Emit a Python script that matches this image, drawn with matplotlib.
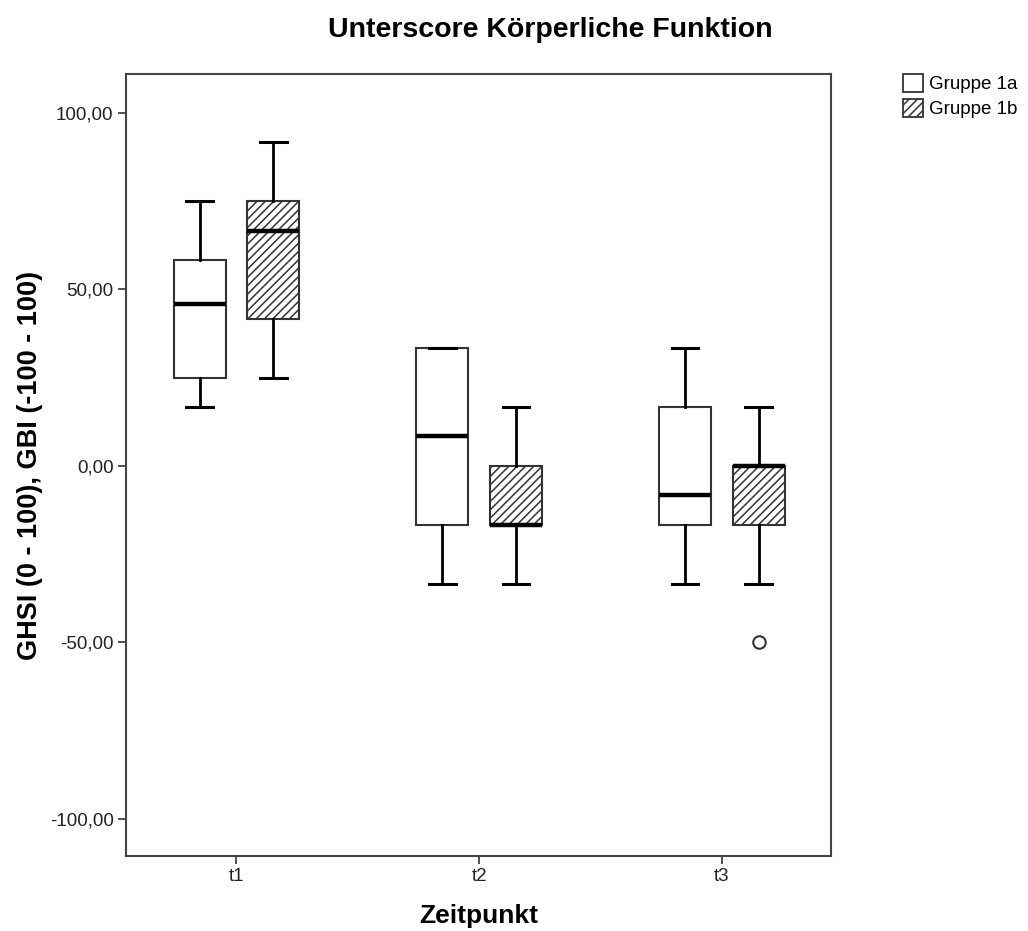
import matplotlib
matplotlib.use("Agg")
import matplotlib.pyplot as plt
from matplotlib.patches import Patch
from matplotlib.ticker import FuncFormatter

# data (box statistics per time point)
zeitpunkte = ["t1", "t2", "t3"]
gruppen = ["Gruppe 1a", "Gruppe 1b"]

g1a_whislo = [16.67, -33.33, -33.33]
g1a_q1 = [25.00, -16.67, -16.67]
g1a_med = [45.83, 8.33, -8.33]
g1a_q3 = [58.33, 33.33, 16.67]
g1a_whishi = [75.00, 33.33, 33.33]
g1a_fliers = [[], [], []]

g1b_whislo = [25.00, -33.33, -33.33]
g1b_q1 = [41.67, -16.67, -16.67]
g1b_med = [66.67, -16.67, 0.00]
g1b_q3 = [75.00, 0.00, 0.00]
g1b_whishi = [91.67, 16.67, 16.67]
g1b_fliers = [[], [], [-50.00]]

yticks = [-100, -50, 0, 50, 100]

plt.rcParams["font.family"] = ["Liberation Sans", "DejaVu Sans"]
plt.rcParams["hatch.linewidth"] = 1.1
plt.rcParams["hatch.color"] = "#333333"


def stats(whislo, q1, med, q3, whishi, fliers):
    out = []
    for i in range(len(med)):
        out.append(dict(whislo=whislo[i], q1=q1[i], med=med[i], q3=q3[i],
                        whishi=whishi[i], fliers=fliers[i]))
    return out


fig = plt.figure(figsize=(10.28, 9.31), dpi=100)
ax = fig.add_axes([0.1226, 0.0806, 0.6858, 0.8399])

offset = 0.152
width = 0.214
pos = list(range(1, len(zeitpunkte) + 1))

common = dict(
    widths=width, patch_artist=True, showfliers=True,
    whiskerprops=dict(color="black", linewidth=2.0),
    capprops=dict(color="black", linewidth=2.2),
    medianprops=dict(color="black", linewidth=3.2),
    flierprops=dict(marker="o", markerfacecolor="white", markeredgecolor="#333333",
                    markersize=9, markeredgewidth=1.5),
)

b1 = ax.bxp(stats(g1a_whislo, g1a_q1, g1a_med, g1a_q3, g1a_whishi, g1a_fliers),
            positions=[p - offset for p in pos],
            boxprops=dict(facecolor="white", edgecolor="#333333", linewidth=1.5),
            **common)
b2 = ax.bxp(stats(g1b_whislo, g1b_q1, g1b_med, g1b_q3, g1b_whishi, g1b_fliers),
            positions=[p + offset for p in pos],
            boxprops=dict(facecolor="white", edgecolor="#333333", linewidth=1.5, hatch="////"),
            **common)

# whisker caps about half the box width
for cap in b1["caps"] + b2["caps"]:
    x = cap.get_xdata()
    mid = (x[0] + x[1]) / 2
    cap.set_xdata([mid - 0.055, mid + 0.055])

ax.set_xlim(0.545, 3.45)
ax.set_ylim(-110.5, 111)
ax.set_xticks(pos)
ax.set_xticklabels(zeitpunkte)
ax.set_yticks(yticks)
ax.yaxis.set_major_formatter(FuncFormatter(lambda v, p: f"{v:.2f}".replace(".", ",")))
ax.tick_params(axis="both", length=6, width=1.2, color="#333333", labelsize=13.5,
               labelcolor="#222222", pad=3)
for s in ax.spines.values():
    s.set_color("#444444")
    s.set_linewidth(1.5)

ax.set_xlabel("Zeitpunkt", fontsize=19, fontweight="bold", labelpad=13)
ax.set_ylabel("GHSI (0 - 100), GBI (-100 - 100)", fontsize=19.5, fontweight="bold", labelpad=5)
fig.text(0.535, 0.968, "Unterscore Körperliche Funktion", ha="center", va="center",
         fontsize=20.5, fontweight="bold")

handles = [Patch(facecolor="white", edgecolor="#333333", linewidth=1.3, label=gruppen[0]),
           Patch(facecolor="white", edgecolor="#333333", linewidth=1.3, hatch="////", label=gruppen[1])]
fig.legend(handles=handles, loc="upper left", bbox_to_anchor=(0.878, 0.921),
           frameon=False, fontsize=13.5, handlelength=1.1, handleheight=1.1,
           handletextpad=0.3, labelspacing=0.3, borderaxespad=0, borderpad=0)

fig.savefig("out.png", dpi=100)
